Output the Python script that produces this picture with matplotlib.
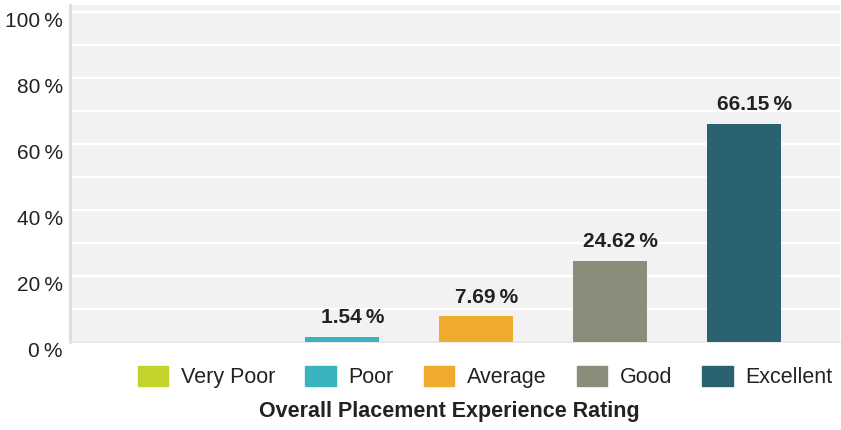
import matplotlib
matplotlib.use("Agg")
import matplotlib.pyplot as plt

plt.rcParams['font.family'] = ['Liberation Sans', 'DejaVu Sans']

# ----------------------------
# data
# ----------------------------
categories = ["Very Poor", "Poor", "Average", "Good", "Excellent"]
values = [0.0, 1.54, 7.69, 24.62, 66.15]
labels = ["", "1.54\u2009%", "7.69\u2009%", "24.62\u2009%", "66.15\u2009%"]
colors = ["#c4d32b", "#3ab4bc", "#f0aa2e", "#8b8c79", "#2b6271"]
yticks = [0, 20, 40, 60, 80, 100]
ytick_labels = ["0\u2009%", "20\u2009%", "40\u2009%", "60\u2009%", "80\u2009%", "100\u2009%"]

fig = plt.figure(figsize=(8.41, 4.30), dpi=100)
ax = fig.add_axes([0.083, 0.205, 0.916, 0.783])
ax.set_facecolor("#f2f2f2")

x = list(range(len(categories)))
ax.bar(x, values, width=0.55, color=colors, zorder=3)

# value labels sit a little right of the bar centre, like the original
for xi, v, lab in zip(x, values, labels):
    if lab:
        ax.annotate(lab, (xi, v), xytext=(8, 14), textcoords="offset points",
                    ha="center", va="center", fontsize=15, fontweight="bold",
                    color="#222222", zorder=4)

ax.set_xlim(-1.03, 4.72)
ax.set_ylim(0, 102.1)

# grid every 10 %
for g in range(10, 101, 10):
    ax.axhline(g, color="white", lw=1.6, zorder=1)

ax.set_yticks(yticks)
ax.set_yticklabels(ytick_labels, fontsize=15, color="#222222")
for t in ax.get_yticklabels():
    t.set_va("top")
ax.tick_params(axis="y", length=0, pad=5)
ax.set_xticks([])

for s in ["top", "right"]:
    ax.spines[s].set_visible(False)
ax.spines["left"].set_color("#dcdcdc")
ax.spines["left"].set_linewidth(2)
ax.spines["bottom"].set_color("#e6e6e6")
ax.spines["bottom"].set_linewidth(1.2)

# legend with square swatches
handles = [plt.Rectangle((0, 0), 1, 1, color=c) for c in colors]
fig.legend(handles, categories, loc="center", bbox_to_anchor=(0.577, 0.123),
           ncol=5, frameon=False, fontsize=15.5, handlelength=1.4, handleheight=1.07,
           columnspacing=1.4, handletextpad=0.6, labelcolor="#222222")

fig.text(0.534, 0.042, "Overall Placement Experience Rating", ha="center", va="center",
         fontsize=15.5, fontweight="bold", color="#222222")

fig.savefig("out.png", dpi=100)
